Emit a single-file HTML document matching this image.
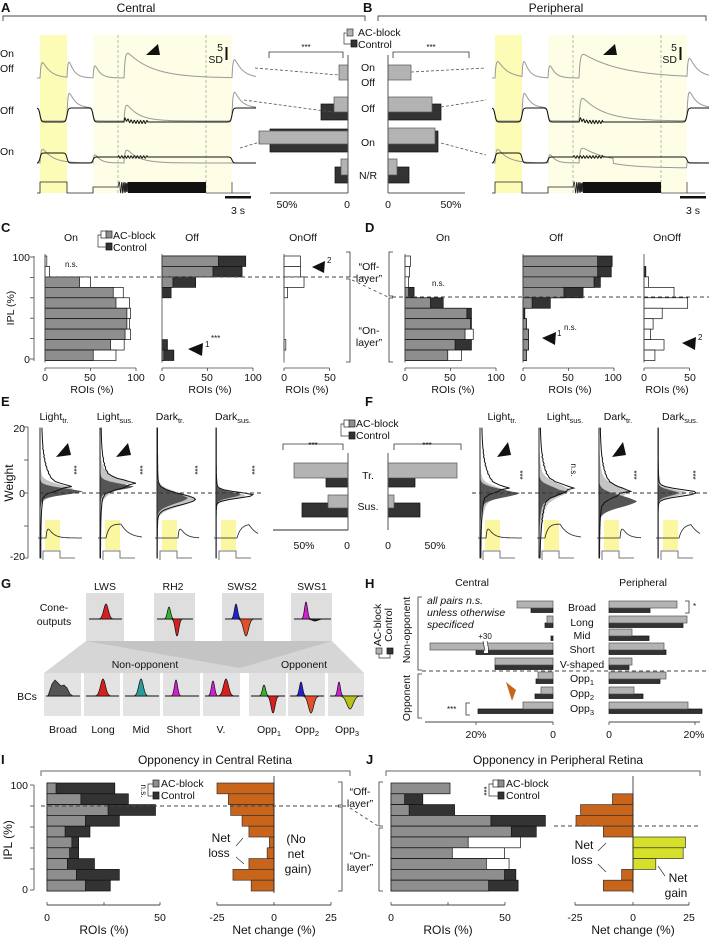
<!DOCTYPE html>
<html><head><meta charset="utf-8"><style>
html,body{margin:0;padding:0;background:#fff}
svg{display:block}
text{font-family:"Liberation Sans",sans-serif;fill:#111}
.b{font-weight:bold;font-size:13px}
.t{font-size:12px}
.s{font-size:10.5px}
.xs{font-size:8px}
.m{text-anchor:middle}
.e{text-anchor:end}
</style></head><body>
<svg id="s" xmlns="http://www.w3.org/2000/svg" width="709" height="938" viewBox="0 0 709 938">
<rect width="709" height="938" fill="#fff"/>
<g id="g"></g>
<!-- A/B -->
<text class="b" x="1" y="12">A</text>
<text class="t m" x="136" y="12">Central</text>
<text class="b" x="363" y="12">B</text>
<text class="t m" x="556" y="12">Peripheral</text>
<text class="s" x="0" y="57">On</text><text class="s" x="0" y="72">Off</text>
<text class="s" x="0" y="114">Off</text><text class="s" x="0" y="155">On</text>
<text class="s e" x="223" y="51">5</text><text class="s e" x="223" y="63">SD</text>
<text class="s e" x="677" y="51">5</text><text class="s e" x="677" y="63">SD</text>
<text class="s m" x="238" y="214">3 s</text><text class="s m" x="693" y="214">3 s</text>
<text class="s" x="358" y="36">AC-block</text><text class="s" x="358" y="48">Control</text>
<text class="xs m" x="306" y="50">***</text><text class="xs m" x="431" y="50">***</text>
<text class="s m" x="368" y="71">On</text><text class="s m" x="368" y="86">Off</text>
<text class="s m" x="368" y="112">Off</text><text class="s m" x="368" y="146">On</text>
<text class="s m" x="368" y="179">N/R</text>
<text class="s m" x="287" y="208">50%</text><text class="s m" x="347" y="208">0</text>
<text class="s m" x="388" y="208">0</text><text class="s m" x="451" y="208">50%</text>
<!-- C/D -->
<text class="b" x="1" y="232">C</text><text class="b" x="365" y="232">D</text>
<text class="s m" x="71" y="241">On</text><text class="s m" x="192" y="241">Off</text><text class="s m" x="303" y="241">OnOff</text>
<text class="s m" x="443" y="241">On</text><text class="s m" x="556" y="241">Off</text><text class="s m" x="667" y="241">OnOff</text>
<text class="s" x="113" y="239">AC-block</text><text class="s" x="113" y="251">Control</text>
<text class="s e" x="30" y="261">100</text><text class="s e" x="30" y="363">0</text>
<text class="s m" transform="translate(14,308) rotate(-90)">IPL (%)</text>
<text class="xs" x="65" y="267">n.s.</text><text class="xs" x="432" y="286">n.s.</text>
<text class="xs" x="205" y="347">1</text><text class="xs" x="211" y="341">***</text>
<text class="xs" x="327" y="263">2</text>
<text class="xs" x="557" y="336">1</text><text class="xs" x="564" y="330">n.s.</text>
<text class="xs" x="698" y="340">2</text>
<text class="s m" x="369" y="270">“Off-</text><text class="s m" x="369" y="282">layer”</text>
<text class="s m" x="369" y="334">“On-</text><text class="s m" x="369" y="346">layer”</text>
<g class="s">
<text class="s m" x="45" y="381">0</text><text class="s m" x="90" y="381">50</text><text class="s m" x="136" y="381">100</text>
<text class="s m" x="162" y="381">0</text><text class="s m" x="207" y="381">50</text><text class="s m" x="253" y="381">100</text>
<text class="s m" x="284" y="381">0</text><text class="s m" x="330" y="381">50</text>
<text class="s m" x="405" y="381">0</text><text class="s m" x="450" y="381">50</text><text class="s m" x="496" y="381">100</text>
<text class="s m" x="523" y="381">0</text><text class="s m" x="568" y="381">50</text><text class="s m" x="613" y="381">100</text>
<text class="s m" x="644" y="381">0</text><text class="s m" x="690" y="381">50</text>
</g>
<text class="s m" x="92" y="393">ROIs (%)</text><text class="s m" x="210" y="393">ROIs (%)</text><text class="s m" x="307" y="393">ROIs (%)</text>
<text class="s m" x="453" y="393">ROIs (%)</text><text class="s m" x="570" y="393">ROIs (%)</text><text class="s m" x="667" y="393">ROIs (%)</text>
<!-- E/F -->
<text class="b" x="1" y="406">E</text><text class="b" x="365" y="406">F</text>
<text class="s m" x="54" y="420">Light<tspan font-size="7.5" dy="3">tr.</tspan></text>
<text class="s m" x="115" y="420">Light<tspan font-size="7.5" dy="3">sus.</tspan></text>
<text class="s m" x="170" y="420">Dark<tspan font-size="7.5" dy="3">tr.</tspan></text>
<text class="s m" x="233" y="420">Dark<tspan font-size="7.5" dy="3">sus.</tspan></text>
<text class="s m" x="502" y="420">Light<tspan font-size="7.5" dy="3">tr.</tspan></text>
<text class="s m" x="565" y="420">Light<tspan font-size="7.5" dy="3">sus.</tspan></text>
<text class="s m" x="618" y="420">Dark<tspan font-size="7.5" dy="3">tr.</tspan></text>
<text class="s m" x="680" y="420">Dark<tspan font-size="7.5" dy="3">sus.</tspan></text>
<text class="s e" x="25" y="432">20</text><text class="s e" x="25" y="497">0</text><text class="s e" x="25" y="560">-20</text>
<text class="t m" transform="translate(13,483) rotate(-90)">Weight</text>
<text class="s" x="356" y="427">AC-block</text><text class="s" x="356" y="439">Control</text>
<text class="xs m" x="313" y="448">***</text><text class="xs m" x="427" y="448">***</text>
<text class="s m" x="368" y="479">Tr.</text><text class="s m" x="368" y="510">Sus.</text>
<text class="s m" x="304" y="549">50%</text><text class="s m" x="347" y="549">0</text>
<text class="s m" x="388" y="549">0</text><text class="s m" x="435" y="549">50%</text>
<g class="xs">
<text class="xs m" transform="translate(71,470) rotate(90)">***</text>
<text class="xs m" transform="translate(137,470) rotate(90)">***</text>
<text class="xs m" transform="translate(192,470) rotate(90)">***</text>
<text class="xs m" transform="translate(249,470) rotate(90)">***</text>
<text class="xs m" transform="translate(517,475) rotate(90)">***</text>
<text class="xs m" transform="translate(571,470) rotate(90)">n.s.</text>
<text class="xs m" transform="translate(631,475) rotate(90)">***</text>
<text class="xs m" transform="translate(690,475) rotate(90)">***</text>
</g>
<!-- G -->
<text class="b" x="1" y="588">G</text>
<text class="s m" x="105" y="590">LWS</text><text class="s m" x="173" y="590">RH2</text>
<text class="s m" x="242" y="590">SWS2</text><text class="s m" x="312" y="590">SWS1</text>
<text class="s m" x="54" y="611">Cone-</text><text class="s m" x="54" y="625">outputs</text>
<text class="s m" x="145" y="668">Non-opponent</text><text class="s m" x="304" y="668">Opponent</text>
<text class="s m" x="27" y="700">BCs</text>
<text class="s m" x="63" y="733">Broad</text><text class="s m" x="103" y="733">Long</text>
<text class="s m" x="141" y="733">Mid</text><text class="s m" x="179" y="733">Short</text>
<text class="s m" x="221" y="733">V.</text>
<text class="s m" x="269" y="733">Opp<tspan font-size="7.5" dy="3">1</tspan></text>
<text class="s m" x="307" y="733">Opp<tspan font-size="7.5" dy="3">2</tspan></text>
<text class="s m" x="347" y="733">Opp<tspan font-size="7.5" dy="3">3</tspan></text>
<!-- H -->
<text class="b" x="365" y="588">H</text>
<text class="s m" x="472" y="586">Central</text><text class="s m" x="643" y="586">Peripheral</text>
<text class="s m" transform="translate(410,630) rotate(-90)">Non-opponent</text>
<text class="s m" transform="translate(410,698) rotate(-90)">Opponent</text>
<text class="s m" transform="translate(381,625) rotate(-90)">AC-block</text>
<text class="s m" transform="translate(392,625) rotate(-90)">Control</text>
<text class="s" x="427" y="604" font-style="italic">all pairs n.s.</text>
<text class="s" x="427" y="616" font-style="italic">unless otherwise</text>
<text class="s" x="427" y="628" font-style="italic">specificed</text>
<text class="xs m" x="485" y="639">+30</text>
<text class="xs" x="447" y="712">***</text><text class="xs" x="693" y="609">*</text>
<text class="s m" x="582" y="611">Broad</text><text class="s m" x="582" y="626">Long</text>
<text class="s m" x="582" y="639">Mid</text><text class="s m" x="582" y="653">Short</text>
<text class="s m" x="582" y="668">V-shaped</text>
<text class="s m" x="582" y="682">Opp<tspan font-size="7.5" dy="3">1</tspan></text>
<text class="s m" x="582" y="697">Opp<tspan font-size="7.5" dy="3">2</tspan></text>
<text class="s m" x="582" y="712">Opp<tspan font-size="7.5" dy="3">3</tspan></text>
<text class="s m" x="476" y="738">20%</text><text class="s m" x="553" y="738">0</text>
<text class="s m" x="609" y="738">0</text><text class="s m" x="694" y="738">20%</text>
<!-- I/J -->
<text class="b" x="1" y="764">I</text><text class="b" x="366" y="764">J</text>
<text class="t m" x="215" y="764">Opponency in Central Retina</text>
<text class="t m" x="558" y="764">Opponency in Peripheral Retina</text>
<text class="s e" x="28" y="789">100</text><text class="s e" x="28" y="893">0</text>
<text class="t m" transform="translate(12,840) rotate(-90)">IPL (%)</text>
<text class="s" x="161" y="787">AC-block</text><text class="s" x="161" y="799">Control</text>
<text class="xs m" transform="translate(141,791) rotate(90)">n.s.</text>
<text class="s" x="506" y="787">AC-block</text><text class="s" x="506" y="799">Control</text>
<text class="xs m" transform="translate(481,791) rotate(90)">***</text>
<text class="s m" x="360" y="795">“Off-</text><text class="s m" x="360" y="807">layer”</text>
<text class="s m" x="360" y="859">“On-</text><text class="s m" x="360" y="871">layer”</text>
<text class="t m" x="221" y="842">Net</text><text class="t m" x="219" y="857">loss</text>
<text class="t m" x="296" y="843">(No</text><text class="t m" x="296" y="858">net</text><text class="t m" x="298" y="873">gain)</text>
<text class="t m" x="584" y="849">Net</text><text class="t m" x="582" y="864">loss</text>
<text class="t m" x="678" y="882">Net</text><text class="t m" x="676" y="897">gain</text>
<text class="s m" x="47" y="921">0</text><text class="s m" x="160" y="921">50</text>
<text class="s m" x="217" y="921">-25</text><text class="s m" x="274" y="921">0</text><text class="s m" x="331" y="921">25</text>
<text class="s m" x="391" y="921">0</text><text class="s m" x="505" y="921">50</text>
<text class="s m" x="575" y="921">-25</text><text class="s m" x="633" y="921">0</text><text class="s m" x="689" y="921">25</text>
<text class="t m" x="104" y="934">ROIs (%)</text><text class="t m" x="274" y="934">Net change (%)</text>
<text class="t m" x="448" y="934">ROIs (%)</text><text class="t m" x="633" y="934">Net change (%)</text>
</svg>
<script>
const ns="http://www.w3.org/2000/svg",G=document.getElementById('g');
function E(t,a){const e=document.createElementNS(ns,t);for(const k in a)e.setAttribute(k,a[k]);G.appendChild(e);return e;}
function R(x,y,w,h,f,st,sw){if(w<0){x+=w;w=-w;}return E('rect',{x:x,y:y,width:w,height:h,fill:f,stroke:st||'none','stroke-width':sw||0.7});}
function L(x1,y1,x2,y2,c,w,d){return E('line',{x1:x1,y1:y1,x2:x2,y2:y2,stroke:c||'#222','stroke-width':w||0.8,'stroke-dasharray':d||'none'});}
function P(d,f,s,w){return E('path',{d:d,fill:f||'none',stroke:s||'none','stroke-width':w||0.8});}
const GR='#8e8e8e',LG='#b3b3b3',DK='#333',YB='#fdfcb6',YL='#fefde6',OR='#c8651b';
function sig(x,a){return 1/(1+Math.exp(-(x-a)*1.5));}
function Lt(x,iv){let s=0;for(const [a,b] of iv)s+=sig(x,a)-sig(x,b);return s;}
function resp(x,t,A,tau){return x<t?0:A*(1-Math.exp(-(x-t)/1.2))*Math.exp(-(x-t)/tau);}
function tr(x0,x1,f,c,w){let d='';for(let x=x0;x<=x1;x+=0.5)d+=(x==x0?'M':'L')+x.toFixed(1)+','+f(x).toFixed(1);P(d,'none',c,w||0.9);}
function topBr(a,b){P(`M${a},21V16H${b}V21`,'none','#444',0.9);}
topBr(3,365);topBr(378,706);
function traces(o,big){
 const on1=40+o,off1=67+o,on2=93+o,c0=118+o,c1=206+o,off2=232+o,x0=37+o,x1=256+o;
 R(on1,35,27,158,YB);R(on2,35,off2-on2,158,YL);
 L(c0,35,c0,193,'#aaa',0.8,'3,2');L(c1,35,c1,193,'#aaa',0.8,'3,2');
 const iv=[[on1,off1],[on2,off2]];
 tr(x0,x1,x=>78-resp(x,on1,24,big?10:8)-resp(x,off1,28,5)-resp(x,on2,22,5)-resp(x,c0+6,big?27:30,big?40:25)-resp(x,off2,28,8),'#999',1);
 tr(x0,x1,x=>108+13*Lt(x,iv)-resp(x,off1,26,6)-resp(x,c0+6,big?28:22,big?22:12)-resp(x,off2,26,7),'#999',1);
 tr(x0,x1,x=>108+14*Lt(x,iv)-resp(x,c0+6,6,3)+(x>c0+6&&x<c0+30?Math.sin(x*2)*1.5:0),'#111',1);
 tr(x0,x1,x=>163-resp(x,on1,20,10)-resp(x,on2,15,5)-resp(x,c0+6,18,big?25:12)+(big&&x>c0+40&&x<off2?5:0),'#999',1);
 tr(x0,x1,x=>163-10*Lt(x,[[on1,off1]])-6*Lt(x,[[on2,off2]])+(x>c0&&x<c0+30?Math.sin(x*2)*1.2:0),'#111',1);
 let d=`M${x0},193H${on1}V182H${off1}V193H${on2}V187H${c0}`;
 for(let x=c0;x<=c0+10;x+=0.25){const ph=2*Math.PI*(0.15*(x-c0)+0.05*(x-c0)*(x-c0));d+='L'+x.toFixed(2)+','+(187.5-5.5*Math.sin(ph)).toFixed(2);}
 P(d,'none','#222',0.8);
 R(c0+10,182,c1-c0-10,11,'#111');
 P(`M${c1},193H${off2}V182H${off2}V193H${x1-6}`,'none','#444',0.8);
}
traces(0,false);traces(455,true);
R(225,196,26,2.5,'#111');R(680,196,26,2.5,'#111');
R(225.5,47,2,13,'#111');R(679.5,47,2,13,'#111');
P('M146,55L158,44L160,55Z','#111');P('M603,55L615,44L617,55Z','#111');
R(348,129,-78,23,DK,'#111');R(348,131,-89,13,LG,'#555');
R(348,104,-27,16,DK,'#111');R(348,97,-14,15,LG,'#555');
R(348,167,-13,16,DK,'#111');R(348,159,-7,16,LG,'#555');
R(348,65,-9,15,LG,'#555');
R(388,131,50,21,DK,'#111');R(388,128,47,16,LG,'#555');
R(388,104,53,16,DK,'#111');R(388,97,44,15,LG,'#555');
R(388,167,21,16,DK,'#111');R(388,159,9,16,LG,'#555');
R(388,65,23,15,LG,'#555');
L(348,55,348,193,'#555',1);L(388,55,388,193,'#555',1);
L(270,193,348,193,'#555',1);L(388,193,465,193,'#555',1);
P('M269,58V52H343V58','none','#333',0.8);P('M393,58V52H469V58','none','#333',0.8);
R(347,29,6,7,LG,'#333');R(351,40,6,7,DK,'#111');P('M346,33H344V44H351','none','#333',0.7);
[[255,68,339,75],[244,100,332,112],[240,148,260,142],[411,72,486,68],[441,107,486,100],[441,143,486,155]].forEach(a=>L(a[0],a[1],a[2],a[3],'#555',0.8,'3,2'));
const cT=256,cH=10.45,SC=0.91;
function hist(x0,rows,axisMax){
 rows.forEach((r,i)=>{const y=cT+i*cH;const [g,b,t]=r;
  if(b>0)R(x0,y,b*SC,cH,t=='w'?'#fff':DK,'#111',0.7);
  if(g>0)R(x0,y,g*SC,cH,GR,'#111',0.7);});
 L(x0,cT-2,x0,cT+10*cH+2,'#444',0.8);
 L(x0,368,x0+axisMax*SC,368,'#444',0.8);
 for(let v=0;v<=axisMax;v+=50)L(x0+v*SC,368,x0+v*SC,371,'#444',0.8);
}
hist(45,[[0,2,'w'],[0,5,'w'],[38,50,'w'],[75,86,'w'],[78,93,'w'],[90,94,'w'],[90,93,'w'],[88,94,'w'],[72,87,'w'],[53,78,'w']],100);
hist(162,[[62,92,'d'],[56,88,'d'],[12,37,'d'],[0,10,'d'],[0,0],[0,0],[0,0],[0,0],[0,6,'d'],[2,13,'d']],100);
hist(284,[[0,18,'w'],[0,18,'w'],[0,22,'w'],[0,4,'w'],[0,0],[0,0],[0,0],[0,0],[0,2,'w'],[0,0]],50);
hist(405,[[0,6,'w'],[0,5,'w'],[0,4,'w'],[4,10,'d'],[28,42,'d'],[68,73,'d'],[72,73,'d'],[66,75,'w'],[55,73,'d'],[47,62,'w']],100);
hist(523,[[82,98,'d'],[82,97,'d'],[78,85,'d'],[45,66,'d'],[10,30,'d'],[0,2,'d'],[4,4,'w'],[6,6,'d'],[6,6,'d'],[4,4,'d']],100);
hist(644,[[0,0],[0,2,'d'],[0,5,'w'],[0,33,'w'],[0,48,'w'],[0,20,'w'],[0,10,'w'],[0,7,'w'],[0,22,'w'],[0,12,'w']],50);
L(34,256,34,361,'#444',0.8);for(let i=0;i<=5;i++)L(30,257+i*20.4,34,257+i*20.4,'#444',0.8);
L(45,277,368,277,'#444',1,'4,3');L(392,297,709,297,'#444',1,'4,3');L(352,280,388,297,'#444',0.8,'3,3');
P('M346,252H350V277H346','none','#333',0.8);P('M346,279H350V362H346','none','#333',0.8);
P('M393,252H389V296H393','none','#333',0.8);P('M393,298H389V362H393','none','#333',0.8);
R(101,231,6,7,'#fff','#222');R(106,231,6,7,GR,'#222');R(106,243,6,7,DK,'#111');P('M101,235H98V247H106','none','#333',0.7);
P('M188,349L203,343L202,356Z','#111');P('M312,267L325,261L324,273Z','#111');
P('M542,338L556,332L555,345Z','#111');P('M682,343L696,337L695,350Z','#111');
const y0w=493,kw=3.27;function yw(w){return y0w-w*kw;}
function dens(xs,p,fill,stroke){let d=`M${xs},${yw(20)}`;let pts=[];
 for(let w=20;w>=-20;w-=0.5){let v=p.A*Math.exp(-Math.pow((w-p.m)/p.s,2)/2);
  if(w>p.m)v+=p.tu*Math.exp(-(w-p.m)/p.du);else v+=p.td*Math.exp((w-p.m)/p.dd);
  v+=(p.b||0)*(w>0?1:0.5);v+=(p.n||0)*Math.sin(w*5)*(v>3?1:0);v=Math.max(0,Math.min(v,50));
  pts.push([xs+v,yw(w)]);}
 if(fill!='none'){pts.forEach(q=>d+='L'+q[0].toFixed(1)+','+q[1].toFixed(1));d+=`L${xs},${yw(-20)}Z`;P(d,fill,'none');}
 else{let dd='';pts.forEach((q,i)=>dd+=(i?'L':'M')+q[0].toFixed(1)+','+q[1].toFixed(1));P(dd,'none',stroke,1);}
}
function sub(xs,ps,kind){
 dens(xs,ps[0],'#c4c4c4');dens(xs,ps[1],'#555');
 dens(xs,ps[2],'none','#111');
 L(xs,yw(20),xs,yw(-20),'#222',1);
 R(xs+5,520,15,30,'#fbf7a0');
 let d='';for(let x=xs-2;x<=xs+42;x+=0.5){let y=538;const t=x-(xs+6),t2=x-(xs+21);
  if(kind==0)y=538-(t>0?18*(1-Math.exp(-t/1.5))*Math.exp(-t/5):0);
  if(kind==1)y=538-(t>0?14*(1-Math.exp(-t/3)):0)*(t2>0?Math.exp(-t2/8):1);
  if(kind==2)y=538-(t2>0?18*(1-Math.exp(-t2/1.5))*Math.exp(-t2/5):0);
  if(kind==3)y=538-(t2>0?14*(1-Math.exp(-t2/4))*(t2>12?Math.exp(-(t2-12)/8):1):0);
  d+=(d?'L':'M')+x.toFixed(1)+','+y.toFixed(1);}
 P(d,'none','#222',0.8);
 P(`M${xs+3},560V551H${xs+20}V558H${xs+35}`,'none','#777',1);
}
const g=(A,m,s,tu,du,td,dd,b,n)=>({A,m,s,tu,du,td,dd,b,n});
sub(40,[g(26,1,1.5,10,2.5,6,3,0),g(36,0.5,1,3,2,7,2,0),g(16,1.5,1,18,5,5,4,1.5,0.4)],0);
sub(100,[g(16,2.5,2,18,3,8,4,0),g(26,2,1,4,2,8,2,0),g(22,2.5,1.3,16,4,6,4,1,0.5)],1);
sub(157,[g(32,-2,2,8,3,7,3,0),g(26,-1.5,1.8,3,2,5,2,0),g(34,-2,1.7,5,3,4,3,0.5,0.3)],2);
sub(216,[g(26,-0.8,1,4,2,4,2,0),g(22,-0.5,0.9,2,2,3,2,0),g(34,-0.7,0.9,4,2,2,2,0.3,0.2)],3);
sub(480,[g(18,0.5,1.5,8,3,14,5,0),g(30,0,1.3,3,2,10,3,0),g(13,1,1,18,5,6,5,1.5,0.4)],0);
sub(539,[g(18,1,2,12,4,14,7,0),g(18,0.5,1.5,4,2,10,4,0),g(18,1,1.5,18,5,10,7,1,0.5)],1);
sub(599,[g(18,0,2,14,4,10,4,0),g(32,-2.5,1.8,4,2,6,3,0),g(15,0,1.5,18,5,6,4,1,0.4)],2);
sub(658,[g(26,0,1,4,2,3,2,0),g(18,0,0.9,2,2,2,2,0),g(36,0,1,5,2,2,2,0.3,0.2)],3);
L(40,493,262,493,'#333',1,'4,3');L(472,493,709,493,'#333',1,'4,3');
L(28,427,28,558,'#444',0.8);[427,460,493,526,558].forEach(y=>L(24,y,28,y,'#444',0.8));
P('M56,457L68,443L71,455Z','#111');P('M116,457L128,443L131,455Z','#111');
P('M497,457L508,442L511,455Z','#111');P('M612,457L623,442L626,455Z','#111');
R(348,478,-22,9,DK,'#111');R(348,463,-54,15,LG,'#555');
R(348,503,-46,14,DK,'#111');R(348,495,-20,13,LG,'#555');
R(388,478,27,9,DK,'#111');R(388,463,69,15,LG,'#555');
R(388,503,32,14,DK,'#111');R(388,495,6,13,LG,'#555');
L(348,453,348,530,'#555',1);L(388,453,388,530,'#555',1);L(273,530,348,530,'#555',1.2);
P('M283,450V444H343V450','none','#333',0.8);P('M394,450V444H461V450','none','#333',0.8);
R(344,420,6,7,'#fff','#222');R(349,420,6,7,GR,'#222');R(349,432,6,7,DK,'#111');P('M344,424H341V436H349','none','#333',0.7);
P('M86,641H332L364,673H44Z','#d6d6d6');P('M86,641H332L240,668Z','#c4c4c4');
[[86,124],[154,195],[222,264],[291,332]].forEach(a=>R(a[0],593,a[1]-a[0],48,'#dedede'));
[[44,81],[84,120],[123,160],[163,200],[203,240],[249,286],[288,325],[328,364]].forEach(a=>R(a[0],673,a[1]-a[0],43,'#e3e3e3'));
function bump(cx,base,h,sw,col){let d=`M${cx-sw*3},${base}`;for(let x=cx-sw*3;x<=cx+sw*3;x+=0.3){d+='L'+x.toFixed(1)+','+(base-h*Math.exp(-Math.pow((x-cx)/sw,2)/2)).toFixed(1);}d+=`L${cx+sw*3},${base}Z`;P(d,col,'#111',0.7);}
function base(x0,x1,y){L(x0,y,x1,y,'#111',0.9);}
base(89,122,619);bump(106,619,15,2.3,'#d42020');
base(157,193,619);bump(169,619,12,1.6,'#3ab030');bump(177,619,-17,1.8,'#d42020');
base(225,262,619);bump(236,619,15,1.6,'#2020d0');bump(246,619,-17,2.5,'#e0502a');
base(294,331,619);bump(306,619,17,1.5,'#d020d0');bump(315,619,-2,3,'#222');
const by=696;
base(46,80,by);P(`M48,${by}L52,684L55,680L58,683L61,686L64,685L67,688L70,694L73,${by}Z`,'#555','#111',0.7);
base(86,119,by);bump(103,by,17,2.5,'#d42020');
base(125,159,by);bump(141,by,17,2.3,'#2a9a9a');
base(165,199,by);bump(176,by,16,1.6,'#d020d0');
base(205,239,by);bump(213,by,15,1.6,'#d020d0');bump(226,by,17,2.5,'#d42020');
base(251,285,by);bump(264,by,11,1.6,'#3ab030');bump(273,by,-17,2,'#d42020');
base(290,324,by);bump(301,by,14,1.6,'#2020d0');bump(311,by,-17,2.6,'#e0502a');
base(330,363,by);bump(339,by,14,1.4,'#d020d0');bump(350,by,-13,3.2,'#b8c21a');
function hrow(c,gw,dw,side){const x0=side<0?553:609;R(x0,c+1,side*dw,4.5,DK,'#111');R(x0,c-6,side*gw,7,LG,'#555');}
const rc=[607,622,635,649,664,678,693,708];
const cen=[[36,22],[6,8],[0,2],[0,77],[58,58],[15,17],[12,18],[30,75]];
const per=[[68,41],[78,74],[23,40],[55,57],[23,20],[57,51],[25,34],[79,93]];
rc.forEach((c,i)=>{hrow(c,cen[i][0],cen[i][1],-1);hrow(c,per[i][0],per[i][1],1);});
R(430,643,123,7,LG,'#555');R(484,641,4,12,'#fff');L(483,641,485,651,'#333',0.7);L(487,641,489,651,'#333',0.7);
L(422,671,709,671,'#444',1,'4,3');
L(425,722,553,722,'#444',1);L(476,722,476,725,'#444');L(553,722,553,725,'#444');
L(609,722,700,722,'#444',1);L(609,722,609,725,'#444');L(695,722,695,725,'#444');
P('M422,597H418V670H422','none','#333',0.8);P('M422,674H418V718H422','none','#333',0.8);
P('M470,703H466V715H470','none','#333',0.8);P('M685,601H689V613H685','none','#333',0.8);
R(376,648,6,6,LG,'#333');R(387,648,6,6,DK,'#111');P('M379,654V658H390V654','none','#333',0.7);
P('M506,682L516,690L512,701Z',OR);
P('M41,776V771H350V776','none','#666',1);P('M386,776V771H700V776','none','#666',1);
const iT=783,iH=10.8;
function ihist(x0,sc,rows){rows.forEach((r,i)=>{const y=iT+i*iH;const [gv,b,t]=r;
 if(b>0)R(x0,y,b*sc,iH,t=='w'?'#fff':DK,'#111',0.7);if(gv>0)R(x0,y,gv*sc,iH,GR,'#111',0.7);});}
ihist(47,2.26,[[4,30],[15,36],[27,48],[17,32],[8,19],[11,14],[10,14],[9,21],[13,32],[17,28]]);
ihist(391,2.27,[[26,0],[6,14],[8,28],[44,68],[53,64],[34,57,'w'],[27,50,'w'],[42,52,'w'],[50,55],[43,56]]);
function nc(x0,vals){vals.forEach((v,i)=>{if(!v)return;const y=iT+i*iH;R(x0,y,v*2.28,iH,v>0?'#d6e02a':OR,'#333',0.7);});}
nc(274,[-25,-20,-19,-14,-11,-2,-3,-11,-18,-10]);
nc(633,[0,-9,-23,-25,-13,23,22,10,-5,-13]);
L(274,776,274,893,'#222',0.8);L(633,776,633,893,'#222',0.8);
L(34,785,34,890,'#444',0.8);for(let i=0;i<=5;i++)L(30,785+i*21,34,785+i*21,'#444',0.8);
L(47,905,160,905,'#444',1);[47,104,160].forEach(x=>L(x,905,x,902,'#444'));
L(217,905,331,905,'#444',1);[217,274,331].forEach(x=>L(x,905,x,902,'#444'));
L(391,905,505,905,'#444',1);[391,448,505].forEach(x=>L(x,905,x,902,'#444'));
L(575,905,689,905,'#444',1);[575,633,689].forEach(x=>L(x,905,x,902,'#444'));
L(41,806,346,806,'#444',1,'4,3');L(554,826,700,826,'#444',1,'4,3');L(350,808,378,826,'#444',0.8,'3,3');
P('M338,782H342V805H338','none','#333',0.8);P('M338,807H342V891H338','none','#333',0.8);
P('M383,782H379V826H383','none','#333',0.8);P('M383,828H379V891H383','none','#333',0.8);
R(153,780,6,7,GR,'#222');R(153,792,6,7,DK,'#111');P('M153,784H148V796H153','none','#333',0.7);
R(493,780,6,7,'#fff','#222');R(498,780,6,7,GR,'#222');R(498,792,6,7,DK,'#111');P('M493,784H489V796H498','none','#333',0.7);
[[236,846,243,838],[236,857,244,864],[598,851,606,843],[598,864,606,872],[665,876,658,866]].forEach(a=>L(a[0],a[1],a[2],a[3],'#333',0.7));
</script>
</body></html>
